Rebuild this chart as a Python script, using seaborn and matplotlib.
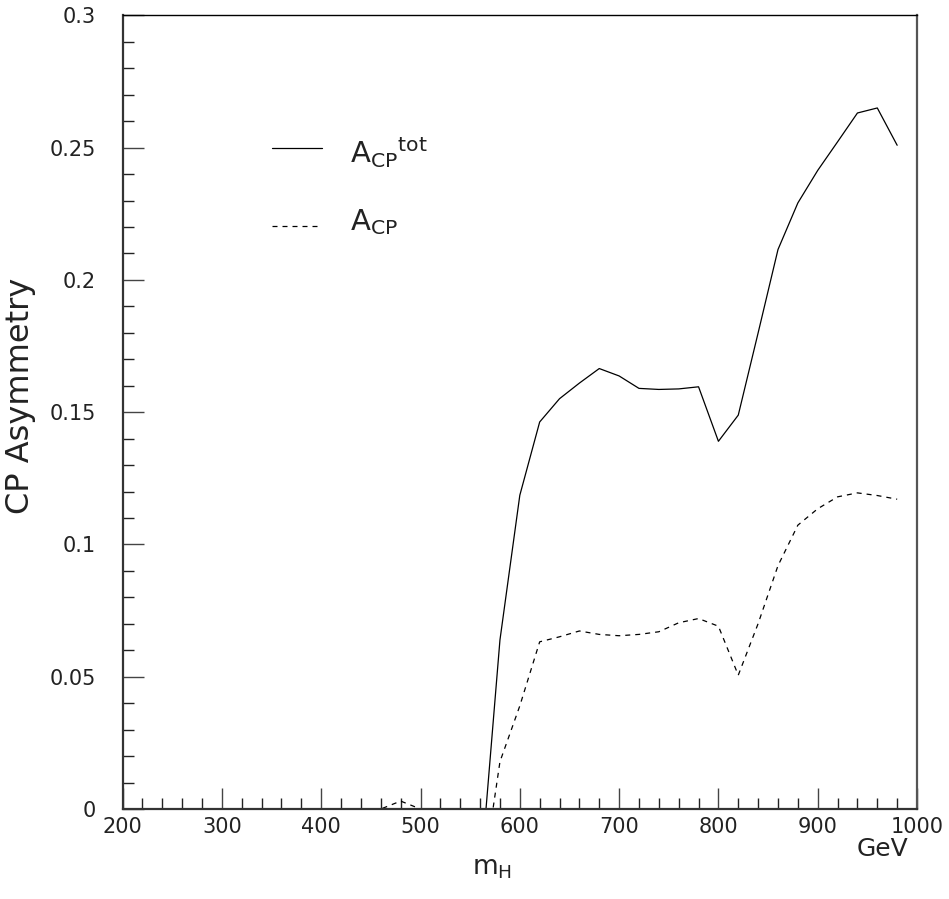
import numpy as np
import pandas as pd
import matplotlib
matplotlib.use("Agg")
import matplotlib.pyplot as plt
import seaborn as sns
from matplotlib.ticker import MultipleLocator

# ---- data ----
mass = [200, 220, 240, 260, 280, 300, 320, 340, 360, 380, 400, 420, 440, 460,
        480, 500, 520, 540, 560, 580, 600, 620, 640, 660, 680, 700, 720, 740,
        760, 780, 800, 820, 840, 860, 880, 900, 920, 940, 960, 980]
a_cp_tot = [0, 0, 0, 0, 0, 0, 0, 0, 0, 0, 0, 0, 0, 0,
            0, 0, 0, 0, -0.027, 0.0639, 0.1186, 0.1463, 0.1551, 0.161, 0.1665, 0.1637, 0.159, 0.1586,
            0.1588, 0.1596, 0.139, 0.1489, 0.180, 0.2115, 0.2291, 0.2414, 0.2522, 0.2631, 0.265, 0.2509]
a_cp = [0, 0, 0, 0, 0, 0, 0, 0, 0, 0, 0, 0, 0, 0,
        0.003, 0, 0, 0, -0.033, 0.0179, 0.039, 0.0632, 0.0651, 0.0673, 0.066, 0.0655, 0.066, 0.067,
        0.0704, 0.072, 0.0691, 0.0506, 0.0701, 0.092, 0.1073, 0.1135, 0.118, 0.1195, 0.1185, 0.1171]

legend_labels = [r"$\mathregular{A_{CP}{}^{tot}}$", r"$\mathregular{A_{CP}}$"]
x_label = r"$\mathregular{m_H}$"
y_label = "CP Asymmetry"
unit_label = "GeV"

sns.set_theme(style="white")
plt.rcParams['font.family'] = ['DejaVu Sans']
plt.rcParams['mathtext.fontset'] = 'dejavusans'

fig = plt.figure(figsize=(9.49, 8.99), dpi=100)
ax = fig.add_axes([0.1292, 0.1001, 0.9663 - 0.1292, 0.9829 - 0.1001])

df = pd.DataFrame({"m": mass, "tot": a_cp_tot, "cp": a_cp})
sns.lineplot(data=df, x="m", y="tot", ax=ax, color="black", linewidth=0.9)
sns.lineplot(data=df, x="m", y="cp", ax=ax, color="black", linewidth=0.9,
             linestyle=(0, (4, 4)))

ax.set_xlim(200, 1000)
ax.set_ylim(0, 0.3)
ax.xaxis.set_major_locator(MultipleLocator(100))
ax.xaxis.set_minor_locator(MultipleLocator(20))
ax.yaxis.set_major_locator(MultipleLocator(0.05))
ax.yaxis.set_minor_locator(MultipleLocator(0.01))
ax.set_yticks([0, 0.05, 0.1, 0.15, 0.2, 0.25, 0.3])
ax.set_yticklabels(["0", "0.05", "0.1", "0.15", "0.2", "0.25", "0.3"])
ax.tick_params(axis="both", which="both", bottom=True, left=True, top=False, right=False)
ax.tick_params(axis="both", which="major", direction="in", length=15, width=1,
               color="#444444", labelsize=15, labelcolor="#222222")
ax.tick_params(axis="both", which="minor", direction="in", length=8, width=1,
               color="#222222")
ax.tick_params(axis="y", which="both", pad=19)
ax.tick_params(axis="x", which="both", pad=6)
for s in ["left", "bottom"]:
    ax.spines[s].set_linewidth(1.6)
    ax.spines[s].set_color("#333333")
ax.spines["right"].set_linewidth(1.6)
ax.spines["right"].set_color("#555555")
ax.spines["top"].set_linewidth(1.0)
ax.spines["top"].set_color("black")
ax.grid(False)

ax.set_xlabel("")
ax.set_ylabel("")
fig.text(0.022, 0.56, y_label, rotation=90, ha="center", va="center",
         fontsize=23, color="#222222")
fig.text(0.518, 0.034, x_label, ha="center", va="center", fontsize=19, color="#222222")
fig.text(0.93, 0.056, unit_label, ha="center", va="center", fontsize=18, color="#222222")

# legend drawn inside the axes
ax.plot([350, 401], [0.25, 0.25], color="black", linewidth=0.9)
ax.plot([350, 401], [0.2205, 0.2205], color="black", linewidth=0.9, linestyle=(0, (4, 4)))
ax.text(429, 0.2485, legend_labels[0], fontsize=21, va="center", ha="left", color="#222222")
ax.text(429, 0.222, legend_labels[1], fontsize=21, va="center", ha="left", color="#222222")

fig.savefig("out.png", dpi=100, facecolor="white")
